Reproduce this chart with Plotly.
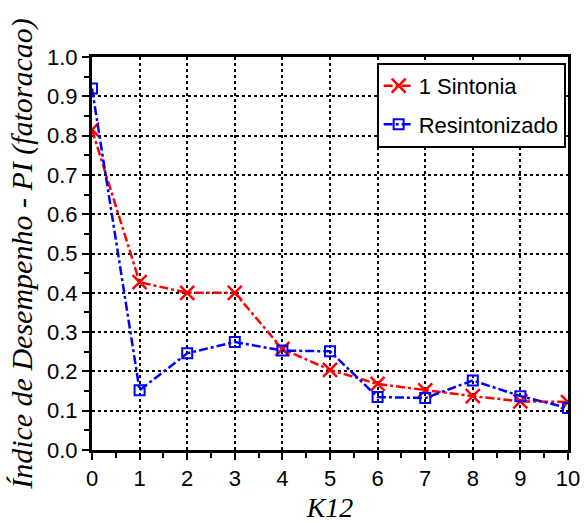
import plotly.graph_objects as go

# K12 gain values and performance index for each tuning strategy
k12 = [0, 1, 2, 3, 4, 5, 6, 7, 8, 9, 10]
pi_sintonia = [0.815, 0.427, 0.40, 0.40, 0.257, 0.204, 0.168, 0.152, 0.137, 0.124, 0.122]
pi_resintonizado = [0.92, 0.152, 0.246, 0.275, 0.253, 0.251, 0.135, 0.132, 0.177, 0.137, 0.107]

serif = "Liberation Serif"
sans = "Liberation Sans"

fig = go.Figure()
fig.add_trace(go.Scatter(
    x=k12, y=pi_sintonia, name="1 Sintonia", mode="lines+markers",
    legendgroup="sintonia",
    line=dict(color="#ff0000", width=2.5, dash="dashdot"),
    marker=dict(symbol="x-thin-open", size=14, color="#ff0000",
                line=dict(color="#ff0000", width=2.5)),
))
fig.add_trace(go.Scatter(
    x=k12, y=pi_resintonizado, name="Resintonizado", mode="lines+markers",
    legendgroup="resintonizado",
    line=dict(color="#0000ff", width=2.5, dash="dashdot"),
    marker=dict(symbol="square-open", size=10, color="#0000ff",
                line=dict(color="#0000ff", width=2)),
))

axis_common = dict(
    showline=True, linecolor="black", linewidth=3, mirror=True,
    showgrid=True, gridcolor="black", gridwidth=2, griddash="dot",
    zeroline=False, ticks="outside", tickcolor="black", tickwidth=2, ticklen=7,
    tickfont=dict(family=sans, size=22, color="black"),
    automargin=False,
)

fig.update_xaxes(
    range=[0, 10], dtick=1, tick0=0,
    minor=dict(dtick=0.5, ticks="outside", ticklen=5, tickwidth=2, tickcolor="black", showgrid=False),
    title=dict(text="K12", font=dict(family=serif, size=28, color="black", style="italic"), standoff=8),
    **axis_common,
)
fig.update_yaxes(
    range=[0, 1], dtick=0.1, tick0=0, tickformat=".1f",
    minor=dict(dtick=0.05, ticks="outside", ticklen=5, tickwidth=2, tickcolor="black", showgrid=False),
    title=dict(text="Índice de Desempenho - PI (fatoracao)",
               font=dict(family=serif, size=30, color="black", style="italic"), standoff=6),
    **axis_common,
)

fig.update_layout(
    width=584, height=523,
    margin=dict(l=92, r=16, t=57, b=73),
    paper_bgcolor="white", plot_bgcolor="white",
    legend=dict(
        x=0.598, y=0.985, xanchor="left", yanchor="top",
        bgcolor="white", bordercolor="black", borderwidth=2,
        font=dict(family=sans, size=22, color="black"),
        itemwidth=30, traceorder="grouped", tracegroupgap=7,
    ),
)

fig.write_html("out.html")
